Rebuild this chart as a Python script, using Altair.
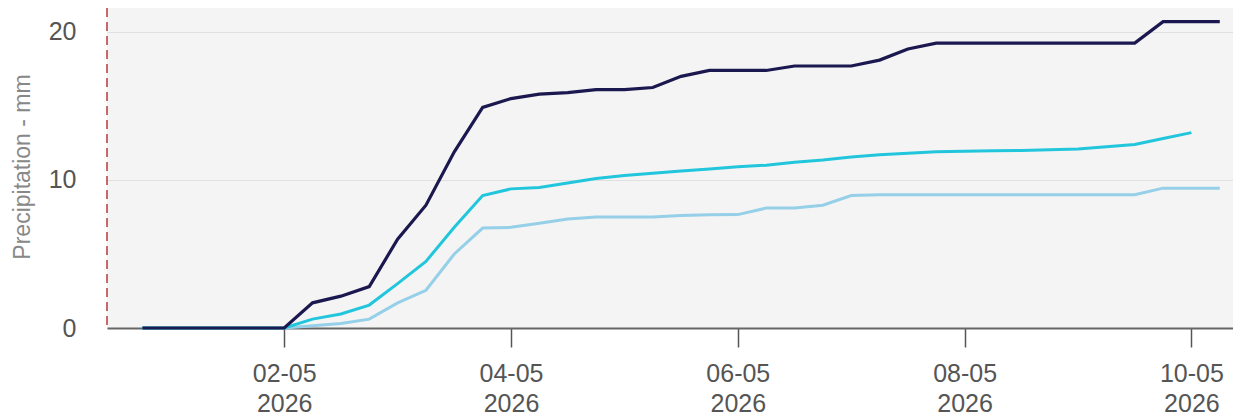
import altair as alt
import pandas as pd

# 6-hourly timestamps (UTC) from 30-04-2026 18:00 to 10-05-2026 06:00
times = pd.date_range("2026-04-30 18:00", "2026-05-10 06:00", freq="6h")

dark_vals = [0, 0, 0, 0, 0, 0,
             1.7, 2.15, 2.8,
             6.0, 8.3, 11.9, 14.9,
             15.5, 15.8, 15.9, 16.1,
             16.1, 16.25, 17.0, 17.4,
             17.4, 17.4, 17.7, 17.7,
             17.7, 18.1, 18.85, 19.25,
             19.25, 19.25, 19.25, 19.25,
             19.25, 19.25, 19.25, 20.7,
             20.7, 20.7]

cyan_vals = [0, 0, 0, 0, 0, 0,
             0.6, 0.95, 1.55,
             3.0, 4.5, 6.8, 8.95,
             9.4, 9.5, 9.8, 10.1,
             10.3, 10.45, 10.6, 10.75,
             10.9, 11.0, 11.2, 11.35,
             11.55, 11.7, 11.8, 11.9,
             11.95, 11.98, 12.0, 12.05,
             12.1, 12.25, 12.4, 12.8,
             13.2]

light_vals = [0, 0, 0, 0, 0, 0,
              0.15, 0.3, 0.6,
              1.7, 2.55, 5.0, 6.75,
              6.8, 7.07, 7.37, 7.5,
              7.5, 7.5, 7.6, 7.65,
              7.66, 8.1, 8.1, 8.3,
              8.95, 9.0, 9.0, 9.0,
              9.0, 9.0, 9.0, 9.0,
              9.0, 9.0, 9.0, 9.45,
              9.45, 9.45]

tick_dates = ["2026-05-02", "2026-05-04", "2026-05-06", "2026-05-08", "2026-05-10"]
x_domain = ["2026-04-30 10:30", "2026-05-10 08:48"]
y_ticks = [0, 10, 20]

def ms(s):
    return int(pd.Timestamp(s, tz="UTC").value // 10**6)

def frame(vals):
    return pd.DataFrame({"t": [ms(t) for t in times[:len(vals)]], "v": vals})

W, H = 1126, 320

x_enc = alt.X(
    "t:T",
    scale=alt.Scale(type="utc", domain=[ms(d) for d in x_domain], nice=False),
    axis=alt.Axis(
        values=[ms(d) for d in tick_dates],
        labelExpr="[utcFormat(datum.value, '%d-%m'), utcFormat(datum.value, '%Y')]",
        title=None, grid=False,
        domainColor="#666666", domainWidth=2,
        tickColor="#555555", tickSize=19, tickWidth=1.5,
        labelFontSize=25, labelColor="#555555", labelLineHeight=30,
        labelPadding=14, labelFont="Liberation Sans",
    ),
)
y_enc = alt.Y(
    "v:Q",
    scale=alt.Scale(domain=[0, 21.62], nice=False, zero=True),
    axis=alt.Axis(
        values=y_ticks, title="Precipitation - mm",
        domain=False, ticks=False, labelPadding=31,
        labelFontSize=25, labelColor="#555555", labelFont="Liberation Sans",
        gridColor="#e0e0e0", gridWidth=1,
        titleFontSize=23, titleColor="#888888", titleFont="Liberation Sans",
        titleFontWeight="normal", titleAngle=270, titleX=-77.5, titleY=158.5,
        titleAlign="center", titleBaseline="alphabetic",
    ),
)

def line(vals, color, width):
    return alt.Chart(frame(vals)).mark_line(color=color, strokeWidth=width).encode(x=x_enc, y=y_enc)

rule = alt.Chart(pd.DataFrame({"a": [0]})).mark_rule(
    color="#b83a3a", strokeWidth=1.5, strokeDash=[9, 5]
).encode(x=alt.value(0), y=alt.value(0), y2=alt.value(H))

chart = alt.layer(
    line(light_vals, "#95d0e8", 3),
    line(cyan_vals, "#22c6dc", 3),
    line(dark_vals, "#1b1850", 3.2),
    rule,
).properties(
    width=W, height=H,
    autosize=alt.AutoSizeParams(type="none"),
    padding={"left": 99, "top": 0, "right": 0, "bottom": 89},
).configure_view(fill="#f4f4f4", stroke=None)

chart.save("out.html", embed_options={"renderer": "svg", "actions": False})
